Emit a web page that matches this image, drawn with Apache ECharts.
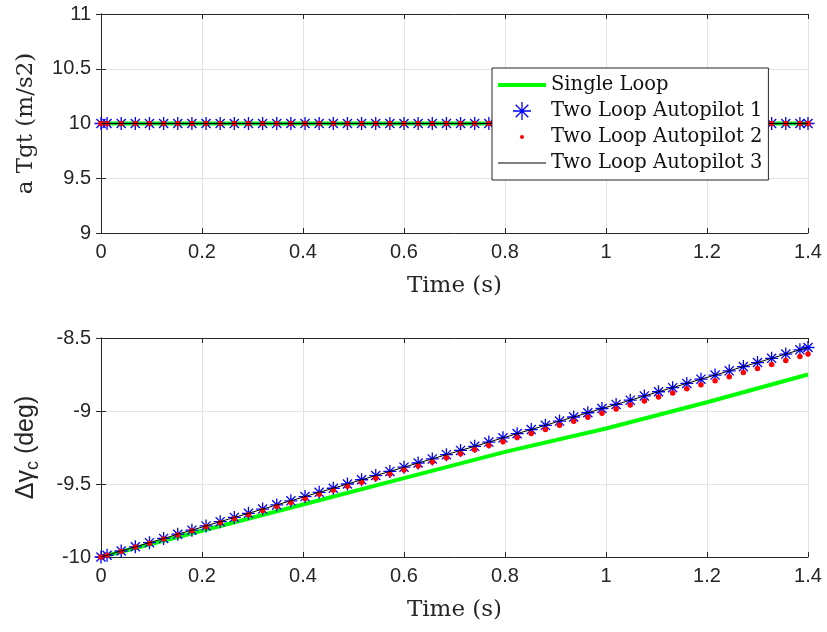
<!DOCTYPE html>
<html>
<head>
<meta charset="utf-8">
<script src="https://cdn.jsdelivr.net/npm/echarts@6/dist/echarts.min.js"></script>
<style>html,body{margin:0;padding:0;background:#fff;}#c{width:827px;height:632px;}</style>
</head>
<body>
<div id="c"></div>
<script>
// ---- data ----
const seriesNames = ['Single Loop', 'Two Loop Autopilot 1', 'Two Loop Autopilot 2', 'Two Loop Autopilot 3'];
const xTicks = [0, 0.2, 0.4, 0.6, 0.8, 1, 1.2, 1.4];
const topYTicks = [9, 9.5, 10, 10.5, 11];
const botYTicks = [-10, -9.5, -9, -8.5];

// sample times of the two-loop autopilot runs (marker positions)
const time = [0, 0.012, 0.04, 0.068, 0.096, 0.124, 0.152, 0.18, 0.208, 0.236, 0.264, 0.292, 0.32, 0.348, 0.376, 0.404, 0.432, 0.46, 0.488, 0.516, 0.544, 0.572, 0.6, 0.628, 0.656, 0.684, 0.712, 0.74, 0.768, 0.796, 0.824, 0.852, 0.88, 0.908, 0.936, 0.964, 0.992, 1.02, 1.048, 1.076, 1.104, 1.132, 1.16, 1.188, 1.216, 1.244, 1.272, 1.3, 1.328, 1.356, 1.384, 1.4];
// single loop time samples
const timeSingle = [0, 0.2, 0.4, 0.6, 0.8, 1.0, 1.2, 1.4];

// top panel: target acceleration (m/s2)
const aTgtSingle = [10, 10, 10, 10, 10, 10, 10, 10];
const aTgtTwo1 = [10, 10, 10, 10, 10, 10, 10, 10, 10, 10, 10, 10, 10, 10, 10, 10, 10, 10, 10, 10, 10, 10, 10, 10, 10, 10, 10, 10, 10, 10, 10, 10, 10, 10, 10, 10, 10, 10, 10, 10, 10, 10, 10, 10, 10, 10, 10, 10, 10, 10, 10, 10];
const aTgtTwo2 = [10, 10, 10, 10, 10, 10, 10, 10, 10, 10, 10, 10, 10, 10, 10, 10, 10, 10, 10, 10, 10, 10, 10, 10, 10, 10, 10, 10, 10, 10, 10, 10, 10, 10, 10, 10, 10, 10, 10, 10, 10, 10, 10, 10, 10, 10, 10, 10, 10, 10, 10, 10];
const aTgtTwo3 = [10, 10, 10, 10, 10, 10, 10, 10, 10, 10, 10, 10, 10, 10, 10, 10, 10, 10, 10, 10, 10, 10, 10, 10, 10, 10, 10, 10, 10, 10, 10, 10, 10, 10, 10, 10, 10, 10, 10, 10, 10, 10, 10, 10, 10, 10, 10, 10, 10, 10, 10, 10];

// bottom panel: delta gamma_c (deg)
const dGamSingle = [-10, -9.82, -9.64, -9.46, -9.28, -9.12, -8.94, -8.75];
const dGamTwo1 = [-10.000, -9.988, -9.959, -9.930, -9.902, -9.873, -9.844, -9.816, -9.787, -9.758, -9.729, -9.701, -9.672, -9.643, -9.615, -9.586, -9.557, -9.529, -9.500, -9.471, -9.442, -9.414, -9.385, -9.356, -9.328, -9.299, -9.270, -9.242, -9.213, -9.184, -9.155, -9.127, -9.098, -9.069, -9.041, -9.012, -8.983, -8.955, -8.926, -8.897, -8.868, -8.840, -8.811, -8.782, -8.754, -8.725, -8.696, -8.668, -8.639, -8.610, -8.581, -8.565];
const dGamTwo2 = [-10.000, -9.988, -9.960, -9.932, -9.905, -9.877, -9.849, -9.821, -9.793, -9.766, -9.738, -9.710, -9.682, -9.654, -9.627, -9.599, -9.571, -9.543, -9.515, -9.488, -9.460, -9.432, -9.404, -9.376, -9.349, -9.321, -9.293, -9.265, -9.237, -9.210, -9.182, -9.154, -9.126, -9.098, -9.071, -9.043, -9.015, -8.987, -8.959, -8.932, -8.904, -8.876, -8.848, -8.820, -8.793, -8.765, -8.737, -8.709, -8.681, -8.654, -8.626, -8.610];
const dGamTwo3 = [-10.000, -9.988, -9.959, -9.930, -9.902, -9.873, -9.844, -9.816, -9.787, -9.758, -9.729, -9.701, -9.672, -9.643, -9.615, -9.586, -9.557, -9.529, -9.500, -9.471, -9.442, -9.414, -9.385, -9.356, -9.328, -9.299, -9.270, -9.242, -9.213, -9.184, -9.155, -9.127, -9.098, -9.069, -9.041, -9.012, -8.983, -8.955, -8.926, -8.897, -8.868, -8.840, -8.811, -8.782, -8.754, -8.725, -8.696, -8.668, -8.639, -8.610, -8.581, -8.565];

// ---- chart ----
const zip = (xs, ys) => xs.map((x, i) => [x, ys[i]]);
const STAR = 'path://M0,-10L0,10M-10,0L10,0M-7,-7L7,7M-7,7L7,-7';
const AX = '#262626';
const GRIDC = '#e3e3e3';
const SANS = "'Liberation Sans', Arial, Helvetica, sans-serif";
const SERIF = "'DejaVu Serif', serif";
const tickFont = { fontFamily: SANS, fontSize: 20, color: AX };
const serifName = { fontFamily: SERIF, fontSize: 23, color: AX };

function mainX(gi) {
  return {
    type: 'value', gridIndex: gi, min: 0, max: 1.4, interval: 0.2, position: 'bottom',
    name: 'Time (s)', nameLocation: 'middle', nameGap: 42, nameTextStyle: serifName,
    axisLine: { show: true, lineStyle: { color: AX, width: 1 } },
    axisTick: { show: true, inside: true, length: 5, lineStyle: { color: AX } },
    axisLabel: Object.assign({ margin: 9 }, tickFont),
    splitLine: { show: true, lineStyle: { color: GRIDC, width: 1 } }
  };
}
function boxX(gi) {
  return {
    type: 'value', gridIndex: gi, min: 0, max: 1.4, interval: 0.2, position: 'top',
    axisLine: { show: true, lineStyle: { color: AX, width: 1 } },
    axisTick: { show: true, inside: true, length: 5, lineStyle: { color: AX } },
    axisLabel: { show: false }, splitLine: { show: false }
  };
}
function mainY(gi, mn, mx, name, nameGap, nts) {
  return {
    type: 'value', gridIndex: gi, min: mn, max: mx, interval: 0.5, position: 'left',
    name: name, nameLocation: 'middle', nameGap: nameGap, nameTextStyle: nts,
    axisLine: { show: true, lineStyle: { color: AX, width: 1 } },
    axisTick: { show: true, inside: true, length: 5, lineStyle: { color: AX } },
    axisLabel: Object.assign({ margin: 10 }, tickFont),
    splitLine: { show: true, lineStyle: { color: GRIDC, width: 1 } }
  };
}
function boxY(gi, mn, mx) {
  return {
    type: 'value', gridIndex: gi, min: mn, max: mx, interval: 0.5, position: 'right',
    axisLine: { show: true, lineStyle: { color: AX, width: 1 } },
    axisTick: { show: true, inside: true, length: 5, lineStyle: { color: AX } },
    axisLabel: { show: false }, splitLine: { show: false }
  };
}

function panelSeries(xi, yi, single, two1, two2, two3) {
  return [
    { name: seriesNames[0], type: 'line', xAxisIndex: xi, yAxisIndex: yi, data: zip(timeSingle, single),
      showSymbol: false, symbol: 'none', lineStyle: { color: '#00ff00', width: 4 }, itemStyle: { color: '#00ff00' }, z: 2 },
    { name: seriesNames[1], type: 'scatter', xAxisIndex: xi, yAxisIndex: yi, data: zip(time, two1),
      symbol: STAR, symbolSize: 13, itemStyle: { color: 'rgba(0,0,0,0)', borderColor: '#0000ff', borderWidth: 1.3, opacity: 1 }, z: 3 },
    { name: seriesNames[2], type: 'scatter', xAxisIndex: xi, yAxisIndex: yi, data: zip(time, two2),
      symbol: 'circle', symbolSize: 5.5, itemStyle: { color: '#ff0000', opacity: 1 }, z: 4 },
    { name: seriesNames[3], type: 'line', xAxisIndex: xi, yAxisIndex: yi, data: zip(time, two3),
      showSymbol: false, symbol: 'none', lineStyle: { color: '#000000', width: 1 }, itemStyle: { color: '#000000' }, z: 5 }
  ];
}

const chart = echarts.init(document.getElementById('c'), null, { renderer: 'canvas' });
chart.setOption({
  animation: false,
  backgroundColor: '#ffffff',
  grid: [
    { left: 101, top: 14, width: 707, height: 219 },
    { left: 101, top: 338, width: 707, height: 219 }
  ],
  xAxis: [mainX(0), boxX(0), mainX(1), boxX(1)],
  yAxis: [
    mainY(0, 9, 11, 'a Tgt (m/s2)', 63, serifName),
    boxY(0, 9, 11),
    mainY(1, -10, -8.5, '{a|Δγ}{s|c}{a| (deg)}', 59, {
      rich: {
        a: { fontFamily: SANS, fontSize: 25, color: AX },
        s: { fontFamily: SANS, fontSize: 18, color: AX, padding: [14, 0, 0, 0] }
      }
    }),
    boxY(1, -10, -8.5)
  ],
  legend: {
    orient: 'vertical', left: 492, top: 68,
    backgroundColor: '#ffffff', borderColor: AX, borderWidth: 1,
    padding: [7, 6, 7, 6], itemGap: 6, itemWidth: 48, itemHeight: 18,
    selectedMode: false,
    textStyle: { fontFamily: SERIF, fontSize: 19.5, lineHeight: 20, color: '#111' },
    data: [
      { name: seriesNames[0], icon: 'path://M0,0H48V4H0Z', itemStyle: { color: '#00ff00', borderWidth: 0 } },
      { name: seriesNames[1], icon: STAR, itemStyle: { color: 'rgba(0,0,0,0)', borderColor: '#0000ff', borderWidth: 1.3 } },
      { name: seriesNames[2], icon: 'path://M0,0M18,18M9,7A2,2,0,1,1,9,11A2,2,0,1,1,9,7Z', itemStyle: { color: '#ff0000', borderWidth: 0 } },
      { name: seriesNames[3], icon: 'path://M0,0H48V1H0Z', itemStyle: { color: '#000000', borderWidth: 0 } }
    ],
    z: 10
  },
  series: [].concat(
    panelSeries(0, 0, aTgtSingle, aTgtTwo1, aTgtTwo2, aTgtTwo3),
    panelSeries(2, 2, dGamSingle, dGamTwo1, dGamTwo2, dGamTwo3)
  )
});
</script>
</body>
</html>
